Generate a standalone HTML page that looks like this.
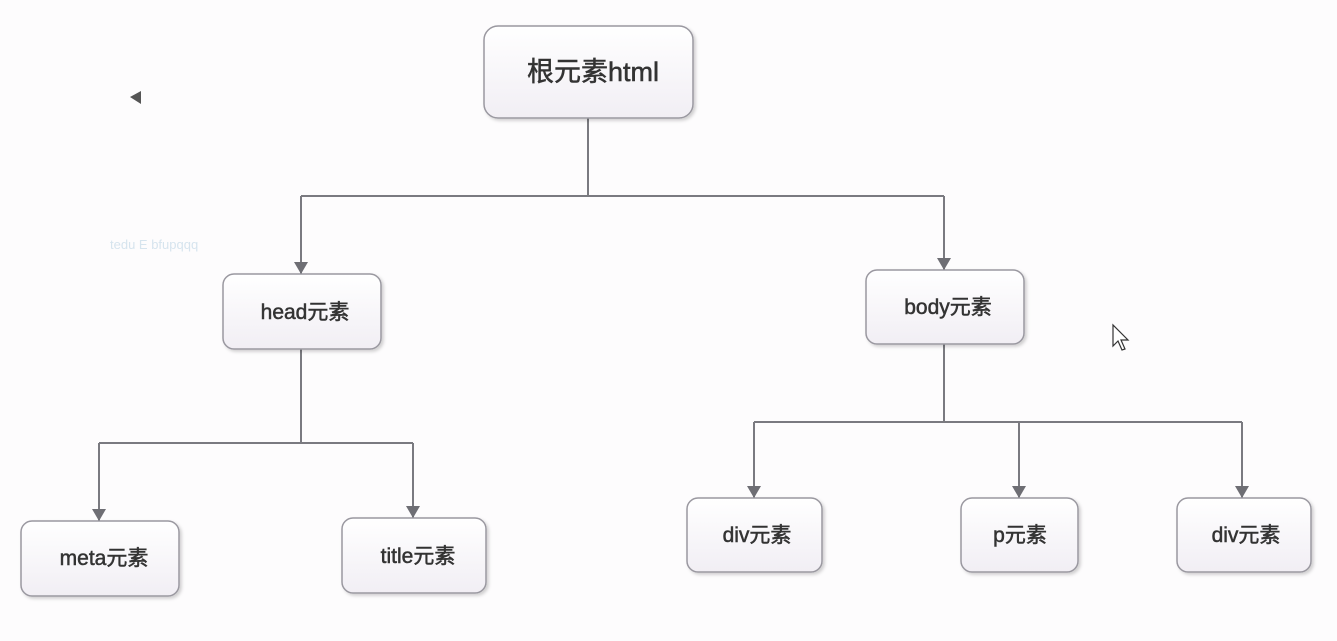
<!DOCTYPE html>
<html><head><meta charset="utf-8"><style>
body{margin:0;background:#fdfcfd;}
svg{display:block}
text{font-family:"Liberation Sans","Noto Sans CJK SC",sans-serif;fill:#333;}
</style></head><body>
<svg width="1337" height="641" viewBox="0 0 1337 641" xmlns="http://www.w3.org/2000/svg">
<defs>
<marker id="a" markerWidth="14" markerHeight="14" refX="12" refY="7" orient="auto" markerUnits="userSpaceOnUse">
<path d="M0,0 L12,7 L0,14 Z" fill="#6e6e74"/></marker>
<linearGradient id="g" x1="0" y1="0" x2="0" y2="1"><stop offset="0" stop-color="#ffffff"/><stop offset="1" stop-color="#f1eef4"/></linearGradient>
<filter id="s" x="-10%" y="-10%" width="130%" height="130%"><feDropShadow dx="2" dy="2" stdDeviation="1.5" flood-color="#000" flood-opacity="0.18"/></filter>
</defs>
<g stroke="#7a7a80" stroke-width="2" fill="none">
<path d="M588,118 V196 M301,196 H944"/>
<path d="M301,196 V274" marker-end="url(#a)"/>
<path d="M944,196 V270" marker-end="url(#a)"/>
<path d="M301,349 V443 M99,443 H413"/>
<path d="M99,443 V521" marker-end="url(#a)"/>
<path d="M413,443 V518" marker-end="url(#a)"/>
<path d="M944,344 V422 M754,422 H1242"/>
<path d="M754,422 V498" marker-end="url(#a)"/>
<path d="M1019,422 V498" marker-end="url(#a)"/>
<path d="M1242,422 V498" marker-end="url(#a)"/>
</g>
<g fill="url(#g)" stroke="#9a98a0" stroke-width="1.5" filter="url(#s)">
<rect x="484" y="26" width="209" height="92" rx="14"/>
<rect x="223" y="274" width="158" height="75" rx="11"/>
<rect x="866" y="270" width="158" height="74" rx="11"/>
<rect x="21" y="521" width="158" height="75" rx="11"/>
<rect x="342" y="518" width="144" height="75" rx="11"/>
<rect x="687" y="498" width="135" height="74" rx="11"/>
<rect x="961" y="498" width="117" height="74" rx="11"/>
<rect x="1177" y="498" width="134" height="74" rx="11"/>
</g>
<g text-anchor="middle" style="stroke:#333;stroke-width:0.5">
<text x="593" y="81" font-size="27">根元素html</text>
<text x="305" y="319" font-size="21">head元素</text>
<text x="948" y="314" font-size="21">body元素</text>
<text x="104" y="565" font-size="21">meta元素</text>
<text x="418" y="563" font-size="21">title元素</text>
<text x="757" y="542" font-size="21">div元素</text>
<text x="1020" y="542" font-size="21">p元素</text>
<text x="1246" y="542" font-size="21">div元素</text>
</g>
<path d="M130,97 L141,91 L141,104 Z" fill="#555"/>
<text x="110" y="249" font-size="13" style="fill:#d6e4ee">tedu E bfupqqq</text>
<path d="M1113,325 L1113,346 L1118,341 L1122,350 L1125,349 L1121,340 L1128,340 Z" fill="#fff" stroke="#333" stroke-width="1.2"/>
</svg>
</body></html>
